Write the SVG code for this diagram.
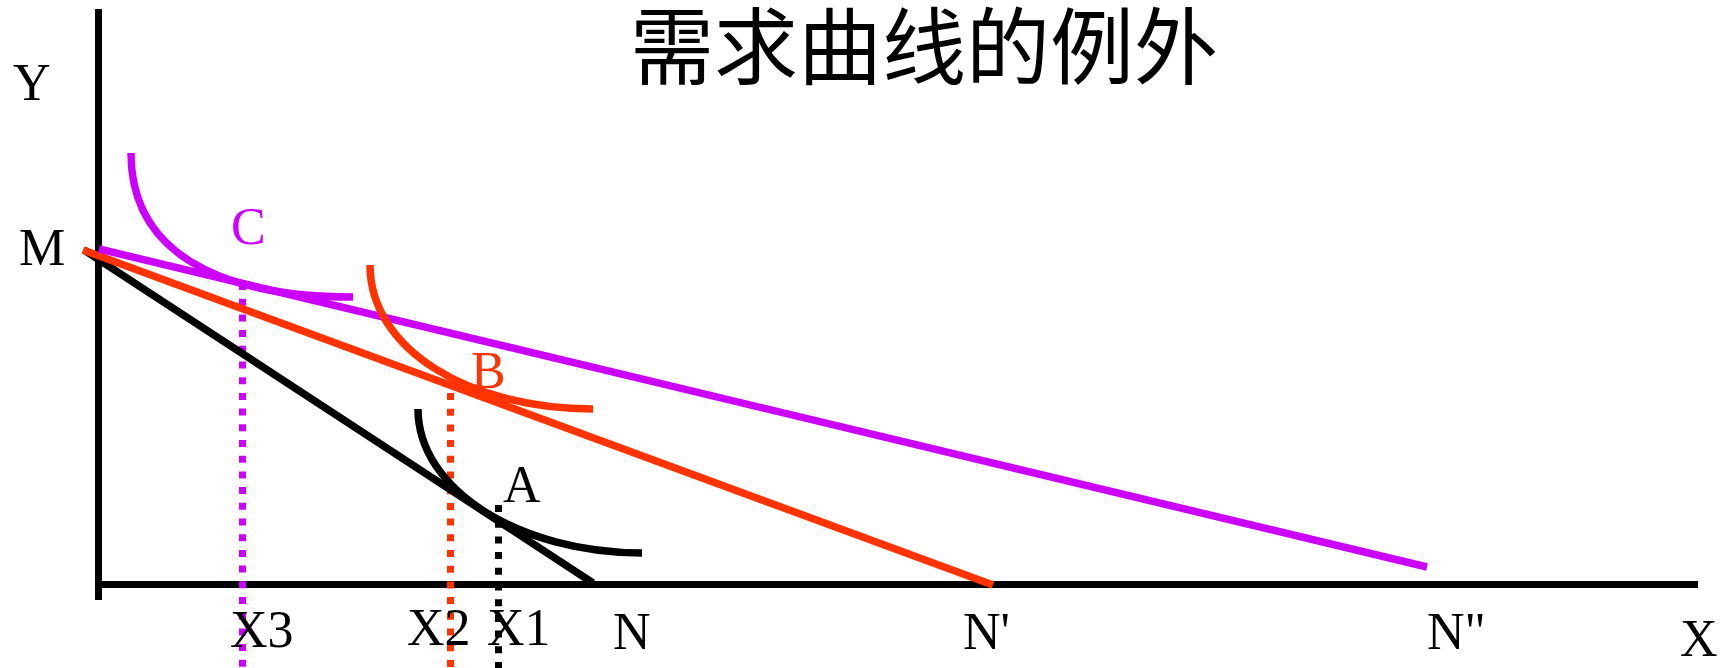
<svg xmlns="http://www.w3.org/2000/svg" width="1734" height="668" viewBox="0 0 1734 668">
<style>
.lbl{font-family:"Liberation Serif","Times New Roman",serif;font-size:52px;fill:#000}
.title{font-family:"Liberation Serif","Noto Sans CJK SC","Noto Sans CJK TC",serif;font-size:84px;fill:#000}
.ax{stroke:#000;stroke-width:7;fill:none}
.crv{fill:none;stroke-width:7.5}
.dot{fill:none;stroke-width:7;stroke-dasharray:7 8.7}
.pur{stroke:#CC00FF}
.ora{stroke:#FF3300}
.blk{stroke:#000}
</style>
<g id="title"><text class="title" x="630" y="78">需求曲线的例外</text></g>
<g id="axes">
<line class="ax" x1="98.5" y1="9" x2="98.5" y2="600"/>
<line class="ax" x1="95" y1="584.5" x2="1698" y2="584.5"/>
<text class="lbl" x="13" y="100">Y</text>
<text class="lbl" x="1680" y="656">X</text>
</g>
<g id="connectors">
<line class="dot pur" x1="242.5" y1="283" x2="242.5" y2="668"/>
<line class="dot ora" x1="450.5" y1="393" x2="450.5" y2="668"/>
<line class="dot blk" x1="498.5" y1="505" x2="498.5" y2="668"/>
<line class="crv blk" x1="84" y1="250" x2="593" y2="583"/>
<line class="crv ora" x1="83" y1="250" x2="993" y2="585"/>
<line class="crv pur" x1="99" y1="249" x2="1427" y2="567"/>
</g>
<g id="curveC"><path class="crv pur" d="M131,153 C131,250 215,297 353,297"/></g>
<g id="curveB"><path class="crv ora" d="M370,265 C370,350 470,409 593,409"/></g>
<g id="curveA"><path class="crv blk" d="M418,409 C418,490 520,553 642,553"/></g>
<g id="labels">
<text class="lbl" x="19" y="265">M</text>
<text class="lbl" x="231" y="244" style="fill:#CC00FF">C</text>
<text class="lbl" x="471" y="388" style="fill:#FF3300">B</text>
<text class="lbl" x="503" y="502">A</text>
<text class="lbl" x="230" y="647">X3</text>
<text class="lbl" x="407" y="645">X2</text>
<text class="lbl" x="487" y="645">X1</text>
<text class="lbl" x="613" y="649">N</text>
<text class="lbl" x="963" y="649">N'</text>
<text class="lbl" x="1427" y="649">N"</text>
</g>
</svg>
